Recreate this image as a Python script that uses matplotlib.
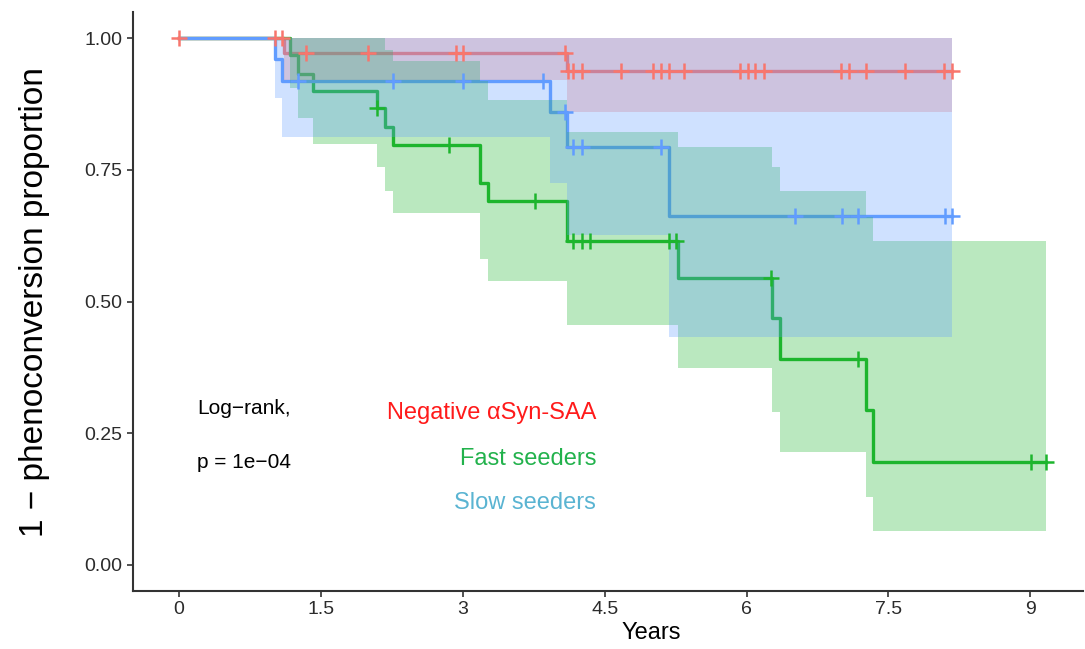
import numpy as np
import matplotlib
matplotlib.use("Agg")
from matplotlib import pyplot as plt

plt.rcParams['font.family'] = ['Liberation Sans', 'DejaVu Sans']

# step curves: time of each step start, survival, 95% CI
red_t = [0, 1.11, 4.10, 8.17]
red_s = [1.0, 0.973, 0.938, 0.938]
red_lo = [1.0, 0.92, 0.86, 0.86]
red_hi = [1.0, 1.0, 1.0, 1.0]
red_cens = [0, 1.01, 1.09, 1.34, 2.0, 2.93, 3.0, 4.08, 4.11, 4.17, 4.26, 4.67,
            5.01, 5.09, 5.18, 5.34, 5.93, 6.01, 6.09, 6.18, 7.00, 7.08, 7.26,
            7.67, 8.09, 8.17]

blue_t = [0, 1.01, 1.09, 3.92, 4.10, 5.18, 8.17]
blue_s = [1.0, 0.96, 0.918, 0.86, 0.794, 0.662, 0.662]
blue_lo = [1.0, 0.886, 0.813, 0.725, 0.626, 0.432, 0.432]
blue_hi = [1.0, 1.0, 1.0, 1.0, 1.0, 1.0, 1.0]
blue_cens = [1.26, 2.26, 3.0, 3.85, 4.08, 4.17, 4.26, 5.09, 6.51, 7.01, 7.18,
             8.10, 8.17]

green_t = [0, 1.17, 1.26, 1.42, 2.09, 2.18, 2.26, 3.18, 3.27, 4.10, 5.27,
           6.27, 6.35, 7.26, 7.34, 9.17]
green_s = [1.0, 0.968, 0.933, 0.90, 0.867, 0.832, 0.797, 0.725, 0.69, 0.614,
           0.545, 0.468, 0.39, 0.294, 0.196, 0.196]
green_lo = [1.0, 0.905, 0.848, 0.80, 0.756, 0.709, 0.668, 0.58, 0.538, 0.456,
            0.374, 0.29, 0.215, 0.129, 0.064, 0.064]
green_hi = [1.0, 1.0, 1.0, 1.0, 1.0, 0.978, 0.957, 0.918, 0.883, 0.822,
            0.794, 0.756, 0.709, 0.66, 0.614, 0.614]
green_cens = [2.09, 2.85, 3.76, 4.17, 4.26, 4.34, 5.18, 5.25, 6.26, 7.18,
              9.01, 9.17]

x_ticks = [0, 1.5, 3, 4.5, 6, 7.5, 9]
x_labels = ['0', '1.5', '3', '4.5', '6', '7.5', '9']
y_ticks = [0, 0.25, 0.5, 0.75, 1.0]
y_labels = ['0.00', '0.25', '0.50', '0.75', '1.00']

groups = [
    (red_t, red_s, red_lo, red_hi, red_cens, '#F8766D'),
    (green_t, green_s, green_lo, green_hi, green_cens, '#1DB52D'),
    (blue_t, blue_s, blue_lo, blue_hi, blue_cens, '#619CFF'),
]

W, H = 1085, 649
fig = plt.figure(figsize=(W / 100, H / 100), dpi=100)
ax = fig.add_axes([133 / W, 1 - 591 / H, (1083 - 133) / W, (591 - 12) / H])

for t, s, lo, hi, cens, col in groups:
    ax.step(t, s, where='post', color=col, lw=2.4, zorder=2)
    ax.fill_between(t, lo, hi, step='post', color=col, alpha=0.3, lw=0,
                    zorder=3)
    idx = np.searchsorted(t, cens, side='right') - 1
    ax.plot(cens, np.array(s)[idx], '+', color=col, ms=11, mew=1.8,
            zorder=4)

ax.set_xlim(-0.486, 9.556)
ax.set_ylim(-0.05, 1.05)
ax.set_xticks(x_ticks)
ax.set_xticklabels(x_labels)
ax.set_yticks(y_ticks)
ax.set_yticklabels(y_labels)
for sp in ['top', 'right']:
    ax.spines[sp].set_visible(False)
for sp in ['left', 'bottom']:
    ax.spines[sp].set_linewidth(1.5)
    ax.spines[sp].set_color('#333333')
ax.tick_params(length=4, width=1.2, color='#333333', labelsize=14,
               labelcolor='#2b2b2b')

fig.text(35 / W, 1 - 302 / H, '1 − phenoconversion proportion', rotation=90,
         ha='center', va='center', fontsize=24)
fig.text(651 / W, 1 - 633 / H, 'Years', ha='center', va='center',
         fontsize=17)

fig.text(197 / W, 1 - 408 / H, 'Log−rank,', ha='left', va='center',
         fontsize=15)
fig.text(197 / W, 1 - 462 / H, 'p = 1e−04', ha='left', va='center',
         fontsize=15)
fig.text(596 / W, 1 - 413 / H, 'Negative αSyn-SAA', ha='right', va='center',
         fontsize=17, color='#FF1A1A')
fig.text(596 / W, 1 - 459 / H, 'Fast seeders', ha='right', va='center',
         fontsize=17, color='#22B24C')
fig.text(596 / W, 1 - 503 / H, 'Slow seeders', ha='right', va='center',
         fontsize=17, color='#5AB4D2')

fig.savefig('out.png', dpi=100)
